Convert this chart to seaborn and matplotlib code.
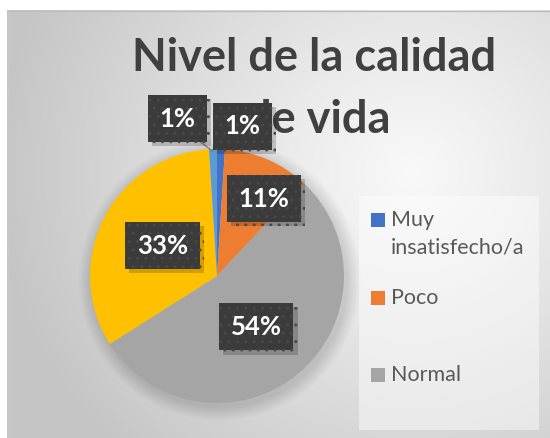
import numpy as np
import matplotlib
matplotlib.use("Agg")
import matplotlib.pyplot as plt
import matplotlib.patches as mpatches
import matplotlib.patheffects as pe
import seaborn as sns

sns.set_theme(style="white")
plt.rcParams["font.family"] = ["Lato", "DejaVu Sans"]

# datos
categorias = ["Muy insatisfecho/a", "Poco", "Normal", "Satisfecho/a", "Muy satisfecho/a"]
porcentajes = [1, 11, 54, 33, 1]
etiquetas = ["1%", "11%", "54%", "33%", "1%"]
leyenda = ["Muy\ninsatisfecho/a", "Poco", "Normal"]
colores = ["#4472C4", "#ED7D31", "#A5A5A5", "#FFC000", "#5B9BD5"]

W, H = 550, 438


def main():
    fig = plt.figure(figsize=(W / 100, H / 100), dpi=100)
    fig.patch.set_facecolor("white")

    # fondo con degradado radial (en pixeles)
    bg = fig.add_axes([0, 0, 1, 1], zorder=-5)
    bg.set_xlim(0, W)
    bg.set_ylim(H, 0)
    bg.axis("off")
    yy, xx = np.mgrid[0:H, 0:W]
    d = np.hypot(xx - 410, (yy - 165) * 1.05)
    t = np.clip(d / 420, 0, 1) ** 1.1
    val = 0.975 - t * (0.975 - 0.775)
    img = np.dstack([val, val, val])
    bg.imshow(img, extent=(7, W, H, 10), aspect="auto", zorder=0)
    bg.plot([7, W], [10.5, 10.5], color="#bdbdbd", lw=1, zorder=1)
    bg.plot([7.5, 7.5], [10, H], color="#c8c8c8", lw=1, zorder=1)

    # titulo
    bg.text(314, 58, "Nivel de la calidad", ha="center", va="center",
            fontsize=32.5, fontweight="bold", color="#404040", zorder=2)
    bg.text(318, 120, "de vida", ha="center", va="center",
            fontsize=32.5, fontweight="bold", color="#404040", zorder=2)

    # leyenda (solo se ven tres entradas)
    bg.add_patch(mpatches.Rectangle((359, 196), 180, 234, facecolor="white",
                                    alpha=0.45, edgecolor="none", zorder=2))
    ys = [220, 298, 375]
    for lab, col, y in zip(leyenda, colores[:3], ys):
        bg.add_patch(mpatches.Rectangle((371, y - 7), 14, 14, facecolor=col,
                                        edgecolor="none", zorder=3))
        bg.text(391, y - 10, lab, ha="left", va="top", fontsize=15.5,
                color="#595959", linespacing=1.45, zorder=3)

    # pastel
    cx, cy, r = 217, 276, 127
    ax = fig.add_axes([(cx - r) / W, (H - cy - r) / H, 2 * r / W, 2 * r / H])

    wedges, _ = ax.pie(porcentajes, colors=colores, startangle=90,
                       counterclock=False, radius=1,
                       wedgeprops=dict(linewidth=0))
    for w in wedges:
        w.set_zorder(2)
    ax.set_xlim(-1, 1)
    ax.set_ylim(-1, 1)
    ax.set_aspect("equal")
    ax.axis("off")
    ax.patch.set_alpha(0)

    # sombra difusa
    for k in range(16):
        rr = 1.0 + 0.11 * (1 - k / 16)
        ax.add_patch(mpatches.Circle((0.02, -0.03), rr, facecolor="black",
                                     alpha=0.008, edgecolor="none", zorder=0,
                                     clip_on=False))

    caja = dict(boxstyle="square,pad=0.45", facecolor="#3b3b3b",
                edgecolor="#484848", linewidth=0, hatch="..")

    # posiciones de las etiquetas (como las coloca Excel)
    pos_etq = [(0.20, 1.18), (0.37, 0.61), (0.31, -0.40), (-0.43, 0.24), (-0.31, 1.24)]
    for i, (w, lab) in enumerate(zip(wedges, etiquetas)):
        x, y = pos_etq[i]
        if i == 4:
            ang = np.deg2rad((w.theta1 + w.theta2) / 2)
            ax.plot([x + 0.07, 0.98 * np.cos(ang)], [y - 0.1, 0.98 * np.sin(ang)],
                    color="#7f7f7f", lw=1, zorder=3, clip_on=False)
        txt = ax.text(x, y, lab, ha="center", va="center", fontsize=18.5,
                      fontweight="bold", color="white", bbox=caja, zorder=5,
                      clip_on=False)
        txt.get_bbox_patch().set_path_effects(
            [pe.SimplePatchShadow(offset=(3, -3), shadow_rgbFace="black", alpha=0.18),
             pe.Normal()])

    fig.savefig("out.png", dpi=100)


if __name__ == "__main__":
    main()
